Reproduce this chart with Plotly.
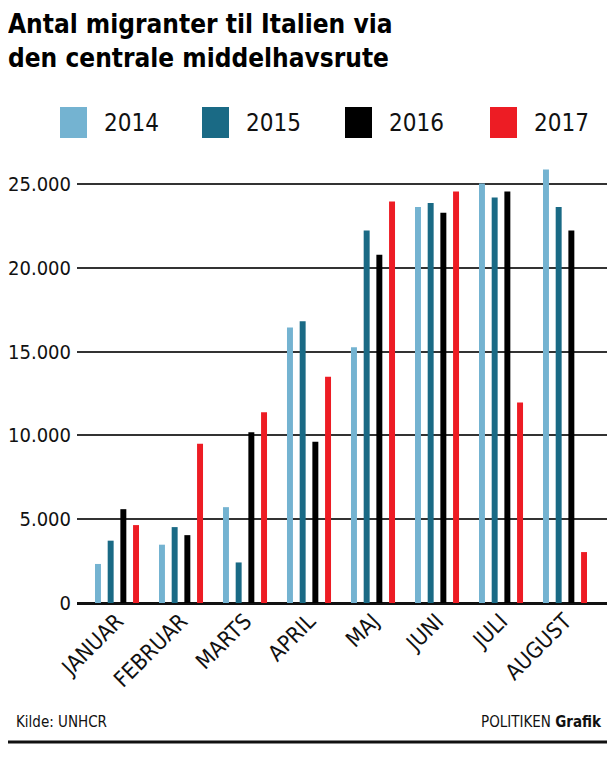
import plotly.graph_objects as go

# data
months = ["JANUAR", "FEBRUAR", "MARTS", "APRIL", "MAJ", "JUNI", "JULI", "AUGUST"]
years = ["2014", "2015", "2016", "2017"]
v2014 = [2330, 3480, 5720, 16450, 15260, 23630, 25040, 25870]
v2015 = [3720, 4530, 2420, 16810, 22240, 23870, 24200, 23630]
v2016 = [5600, 4050, 10190, 9620, 20790, 23290, 24560, 22240]
v2017 = [4650, 9500, 11390, 13510, 23970, 24560, 11960, 3040]
colors = ["#74b3d1", "#1a6a85", "#000000", "#ed1c24"]

# page body adds an 8px margin on every side; keep the page from overflowing
OFF = 8
W, H = 615 - 2 * OFF, 763 - 2 * OFF
ML, MR, MT, MB = 77 - OFF, 0, 159 - OFF, 160 - OFF

FONT = "DejaVu Sans Condensed"


def py(y_ref):
    # reference pixel row -> paper y
    return (H - MB - (y_ref - OFF)) / (H - MT - MB)


def px(x_ref):
    return ((x_ref - OFF) - ML) / (W - ML - MR)


fig = go.Figure()
for name, vals, col in zip(years, [v2014, v2015, v2016, v2017], colors):
    fig.add_trace(go.Bar(x=months, y=vals, name=name, marker_color=col,
                         marker_line_width=0, showlegend=False))

shapes = []
annotations = []

# legend drawn by hand: big squares + labels
leg_x = [60, 202, 345, 490]
for i, (yr, col) in enumerate(zip(years, colors)):
    shapes.append(dict(type="rect", xref="paper", yref="paper",
                       x0=px(leg_x[i]), x1=px(leg_x[i] + 27),
                       y0=py(138), y1=py(107),
                       fillcolor=col, line_width=0))
    annotations.append(dict(text=yr, xref="paper", yref="paper",
                            x=px(leg_x[i] + 42), y=py(123),
                            xanchor="left", yanchor="middle", showarrow=False,
                            font=dict(family=FONT, size=24, color="#111")))

# title
annotations.append(dict(
    text="<b>Antal migranter til Italien via<br>den centrale middelhavsrute</b>",
    xref="paper", yref="paper", x=px(7), y=py(8), xanchor="left", yanchor="top",
    align="left", showarrow=False, borderpad=0,
    font=dict(family=FONT, size=26, color="#000")))

# footer
annotations.append(dict(text="Kilde: UNHCR", xref="paper", yref="paper",
                        x=px(14), y=py(722), xanchor="left", yanchor="middle",
                        showarrow=False, font=dict(family=FONT, size=15, color="#111")))
annotations.append(dict(text="POLITIKEN <b>Grafik</b>", xref="paper", yref="paper",
                        x=px(604), y=py(722), xanchor="right", yanchor="middle",
                        showarrow=False, font=dict(family=FONT, size=15, color="#111")))
shapes.append(dict(type="line", xref="paper", yref="paper",
                   x0=px(OFF), x1=px(607), y0=py(742), y1=py(742),
                   line=dict(color="#111", width=3)))

fig.update_layout(
    width=W, height=H,
    margin=dict(l=ML, r=MR, t=MT, b=MB),
    paper_bgcolor="white", plot_bgcolor="white",
    barmode="group", bargap=0.207, bargroupgap=0.53,
    separators=",.",
    font=dict(family=FONT, color="#111"),
    xaxis=dict(range=[-0.625, 7.656], tickangle=-45, showgrid=False,
               ticks="", showline=False,
               tickfont=dict(family=FONT, size=22, color="#111")),
    yaxis=dict(range=[0, 26500], tickvals=[0, 5000, 10000, 15000, 20000, 25000],
               tickformat=",d", showgrid=True, gridcolor="#333", gridwidth=1.5,
               zeroline=True, zerolinecolor="#111", zerolinewidth=3,
               ticks="", showline=False, ticklabelstandoff=5,
               tickfont=dict(family=FONT, size=20, color="#111")),
    shapes=shapes, annotations=annotations,
)

fig.write_html("out.html")
